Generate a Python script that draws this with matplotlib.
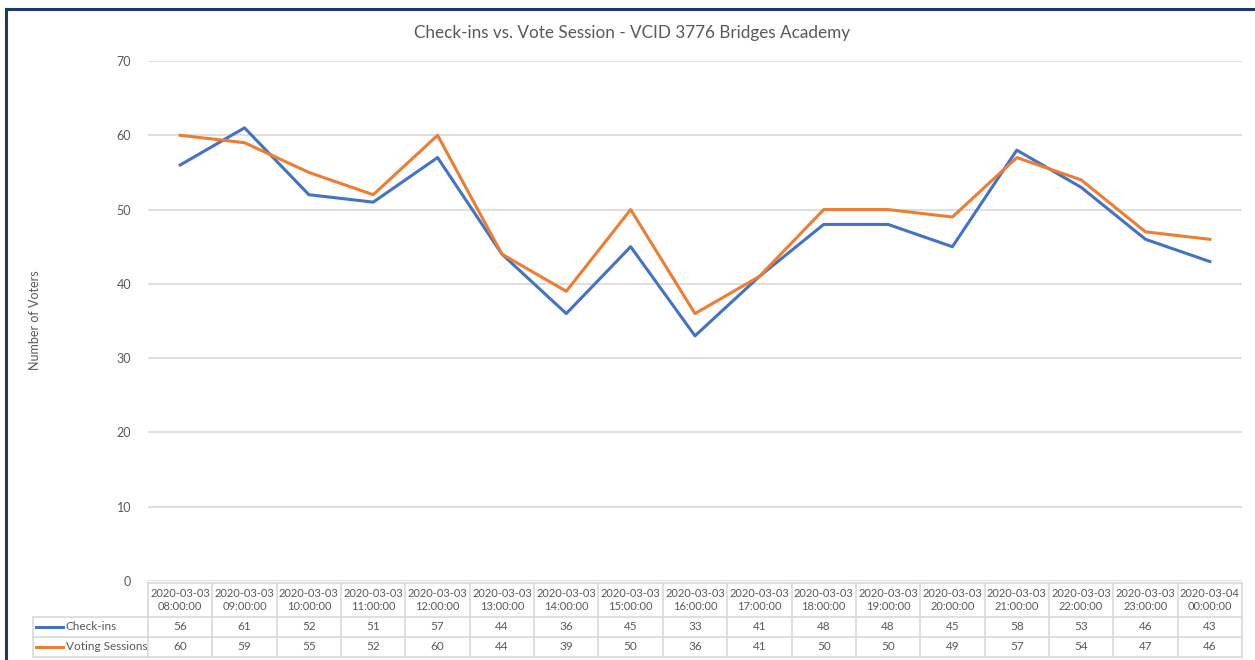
import matplotlib.pyplot as plt
from matplotlib.transforms import blended_transform_factory
from matplotlib.lines import Line2D

plt.rcParams['font.family'] = ['Lato', 'DejaVu Sans']

times = ["2020-03-03\n08:00:00", "2020-03-03\n09:00:00", "2020-03-03\n10:00:00",
         "2020-03-03\n11:00:00", "2020-03-03\n12:00:00", "2020-03-03\n13:00:00",
         "2020-03-03\n14:00:00", "2020-03-03\n15:00:00", "2020-03-03\n16:00:00",
         "2020-03-03\n17:00:00", "2020-03-03\n18:00:00", "2020-03-03\n19:00:00",
         "2020-03-03\n20:00:00", "2020-03-03\n21:00:00", "2020-03-03\n22:00:00",
         "2020-03-03\n23:00:00", "2020-03-04\n00:00:00"]
checkins = [56, 61, 52, 51, 57, 44, 36, 45, 33, 41, 48, 48, 45, 58, 53, 46, 43]
voting = [60, 59, 55, 52, 60, 44, 39, 50, 36, 41, 50, 50, 49, 57, 54, 47, 46]

blue = '#4472C4'
orange = '#ED7D31'
grid_c = '#D9D9D9'
txt_c = '#595959'

W, H = 1255, 660
fig = plt.figure(figsize=(W / 100, H / 100), dpi=100)

def fy(py):
    return 1 - py / H

ax = fig.add_axes([148 / W, fy(581), (1242 - 148) / W, (581 - 61) / H])
x = list(range(len(times)))
ax.plot(x, checkins, color=blue, lw=2.2, zorder=3)
ax.plot(x, voting, color=orange, lw=2.2, zorder=4)
ax.set_xlim(-0.5, len(times) - 0.5)
ax.set_ylim(0, 70)
ax.set_yticks(range(0, 71, 10))
ax.yaxis.grid(True, color=grid_c, lw=1.2)
ax.set_axisbelow(True)
ax.set_xticks([])
for s in ax.spines.values():
    s.set_visible(False)
ax.tick_params(axis='y', length=0, pad=12, labelsize=9, labelcolor=txt_c)

fig.text(632 / W, fy(33), "Check-ins vs. Vote Session - VCID 3776 Bridges Academy",
         ha='center', va='center', fontsize=12.3, color=txt_c)
fig.text(35 / W, fy(320), "Number of Voters", rotation=90, ha='center', va='center',
         fontsize=9, color=txt_c)

# data table below the plot
tr = blended_transform_factory(ax.transData, fig.transFigure)
y_head_top, y_r1, y_r2, y_bot = fy(583), fy(617), fy(637), fy(657)
n = len(times)
for k in range(n + 1):
    ax.add_line(Line2D([k - 0.5, k - 0.5], [y_head_top, y_bot], transform=tr,
                       color=grid_c, lw=1.2, clip_on=False))
ax.add_line(Line2D([-0.5, n - 0.5], [y_head_top, y_head_top], transform=tr,
                   color=grid_c, lw=1.2, clip_on=False))
for yy in (y_r1, y_r2, y_bot):
    fig.add_artist(Line2D([33 / W, 148 / W], [yy, yy], color=grid_c, lw=1.2))
    ax.add_line(Line2D([-0.5, n - 0.5], [yy, yy], transform=tr,
                       color=grid_c, lw=1.2, clip_on=False))
fig.add_artist(Line2D([33 / W, 33 / W], [y_r1, y_bot], color=grid_c, lw=1.2))

for i, t in enumerate(times):
    ax.text(i, (y_head_top + y_r1) / 2, t, transform=tr, ha='center', va='center',
            fontsize=8, color=txt_c, linespacing=1.3)
    ax.text(i, (y_r1 + y_r2) / 2, str(checkins[i]), transform=tr, ha='center',
            va='center', fontsize=8.5, color=txt_c)
    ax.text(i, (y_r2 + y_bot) / 2, str(voting[i]), transform=tr, ha='center',
            va='center', fontsize=8.5, color=txt_c)

for (lab, col, y0, y1) in [("Check-ins", blue, y_r1, y_r2),
                           ("Voting Sessions", orange, y_r2, y_bot)]:
    ym = (y0 + y1) / 2
    fig.add_artist(Line2D([36 / W, 63 / W], [ym, ym], color=col, lw=2.2))
    fig.text(66 / W, ym, lab, ha='left', va='center', fontsize=8.5, color=txt_c)

# chart frame border (dark navy)
fig.add_artist(Line2D([6 / W, 1], [fy(9), fy(9)], color='#1F3864', lw=2.2))
fig.add_artist(Line2D([6 / W, 6 / W], [fy(9), 0], color='#1F3864', lw=2.2))

fig.savefig('out.png', dpi=100)
